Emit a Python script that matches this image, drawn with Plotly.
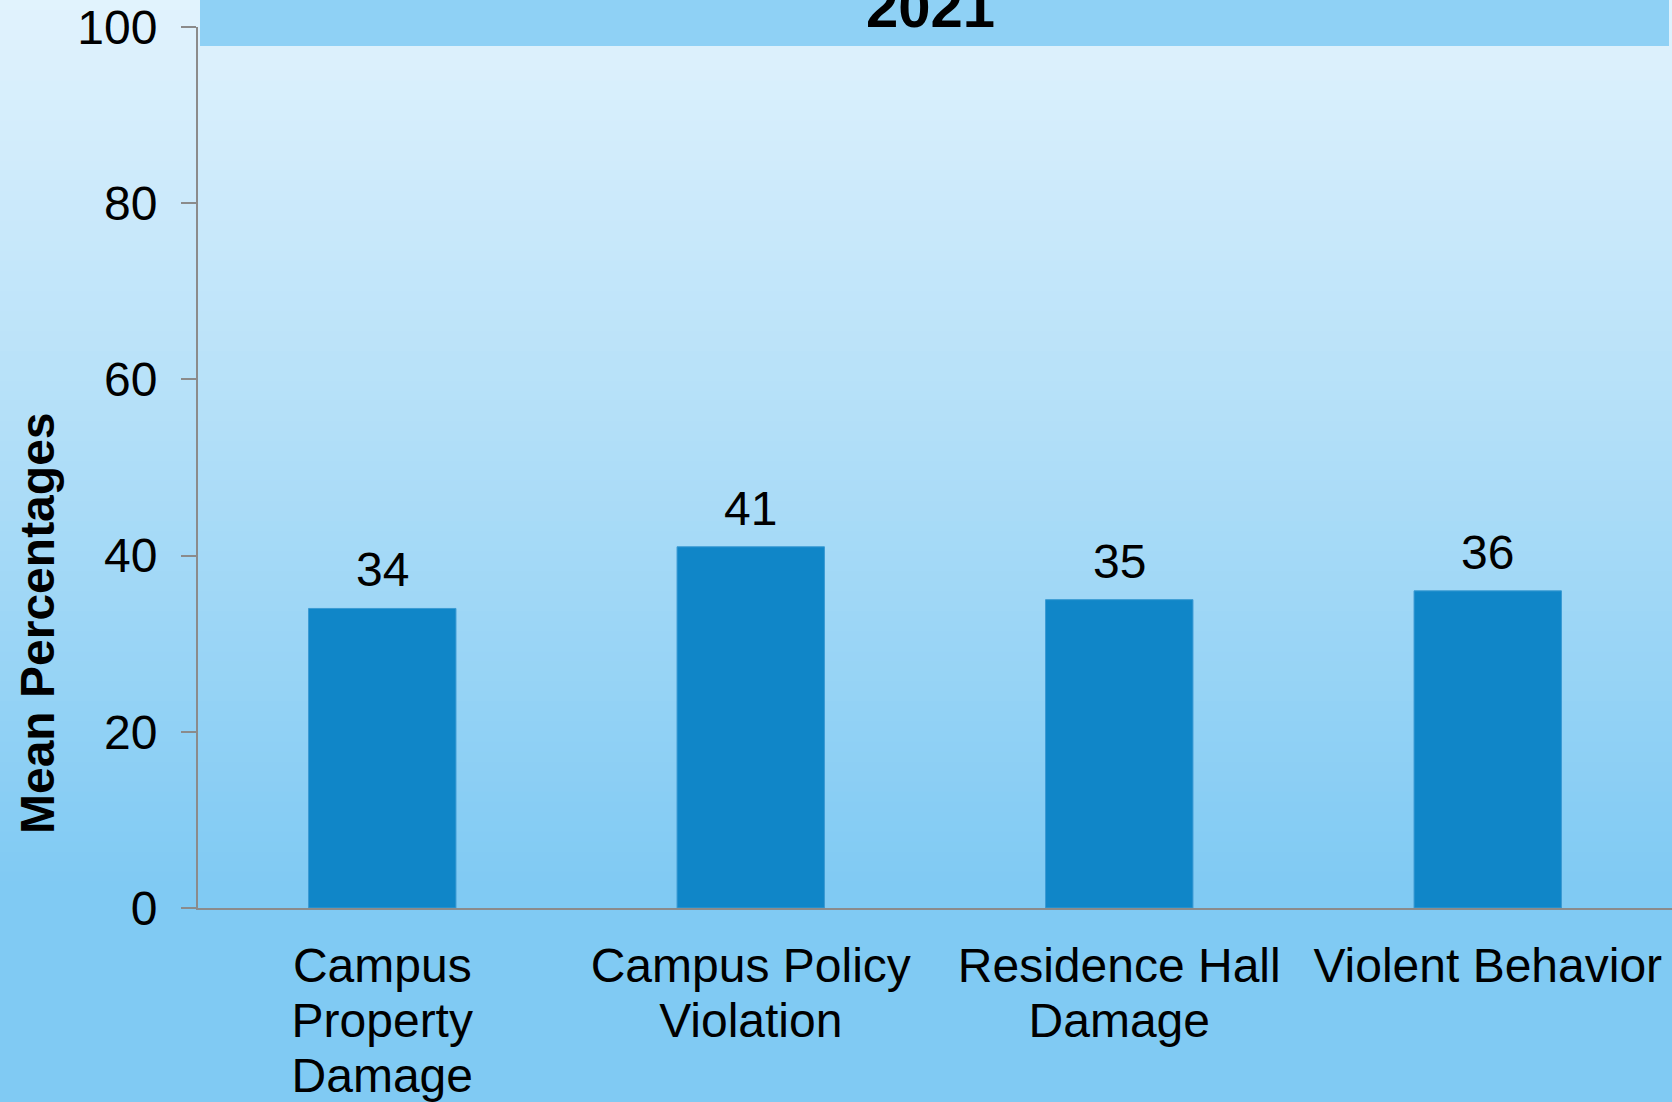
import plotly.graph_objects as go

categories = ["Campus<br>Property<br>Damage", "Campus Policy<br>Violation",
              "Residence Hall<br>Damage", "Violent Behavior"]
values = [34, 41, 35, 36]
y_ticks = [0, 20, 40, 60, 80, 100]
title_text = "2021"
y_title = "Mean Percentages"

W, H = 1672, 1102
L, R, T, B = 198, 0, 27, 194
pw, ph = W - L - R, H - T - B

def px_x(x):
    return (x - L) / pw

def px_y(y):
    return (H - B - y) / ph

FONT = "Liberation Sans, Arial, sans-serif"
FS = 48

tick_text = ["<br>".join("<span style='font-size:%dpx'>%s</span>" % (FS, part)
                         for part in c.split("<br>")) for c in categories]

fig = go.Figure()
fig.add_trace(go.Bar(
    x=categories, y=values, width=0.4,
    marker=dict(color="#1086c8", line=dict(color="#3a9ad3", width=1)),
    cliponaxis=False, hoverinfo="skip",
))
for c, v in zip(categories, values):
    fig.add_annotation(x=c, y=v, text=str(v), showarrow=False,
                       xanchor="center", yanchor="bottom", yshift=10,
                       font=dict(size=FS, family=FONT, color="black"))

# vertical gradient background
shapes = []
top = (226, 243, 253)
bot = (128, 202, 243)
n = 110
stop = 0.8 * H
for i in range(n):
    y0 = i * H / n
    y1 = (i + 1) * H / n + 1
    f = min(((y0 + y1) / 2) / stop, 1.0)
    c = tuple(round(top[k] + (bot[k] - top[k]) * f) for k in range(3))
    shapes.append(dict(type="rect", xref="paper", yref="paper", layer="below",
                       x0=px_x(-5), x1=px_x(W + 5), y0=px_y(y1), y1=px_y(y0),
                       line=dict(width=0), fillcolor="rgb(%d,%d,%d)" % c))
# title band
shapes.append(dict(type="rect", xref="paper", yref="paper", layer="below",
                   x0=px_x(200), x1=px_x(1669), y0=px_y(46), y1=px_y(-5),
                   line=dict(width=0), fillcolor="#8fd1f5"))

fig.update_layout(
    width=W, height=H,
    margin=dict(l=L, r=R, t=T, b=B),
    paper_bgcolor="#80caf3",
    plot_bgcolor="rgba(0,0,0,0)",
    shapes=shapes,
    showlegend=False,
    font=dict(family=FONT, size=FS, color="black"),
    bargap=0.6,
)
fig.update_yaxes(
    range=[0, 100], tickvals=y_ticks, ticks="outside", ticklen=15,
    tickwidth=2, tickcolor="#8b8b8b", showline=True, linecolor="#8b8b8b",
    linewidth=2, showgrid=False, zeroline=False,
    tickfont=dict(size=FS, family=FONT, color="black"),
    ticklabelstandoff=14,
)
fig.update_xaxes(
    showline=True, linecolor="#8b8b8b", linewidth=2, ticks="",
    showgrid=False, tickvals=categories, ticktext=tick_text,
    tickfont=dict(size=42, family=FONT, color="black"),
    ticklabelstandoff=22,
)
fig.add_annotation(
    text="<b>%s</b>" % y_title, textangle=-90, xref="paper", yref="paper",
    x=px_x(37), y=px_y(623), xanchor="center", yanchor="middle",
    showarrow=False, font=dict(size=FS, family=FONT, color="black"),
)
fig.add_annotation(
    text="<b>%s</b>" % title_text, xref="paper", yref="paper",
    x=px_x(930), y=px_y(28), xanchor="center", yanchor="bottom", yshift=-13,
    showarrow=False, font=dict(size=58, family=FONT, color="black"),
)

fig.write_html("out.html",
               config={"displayModeBar": False},
               post_script="document.body.style.margin='0px';"
                           "document.body.style.overflow='hidden';")
